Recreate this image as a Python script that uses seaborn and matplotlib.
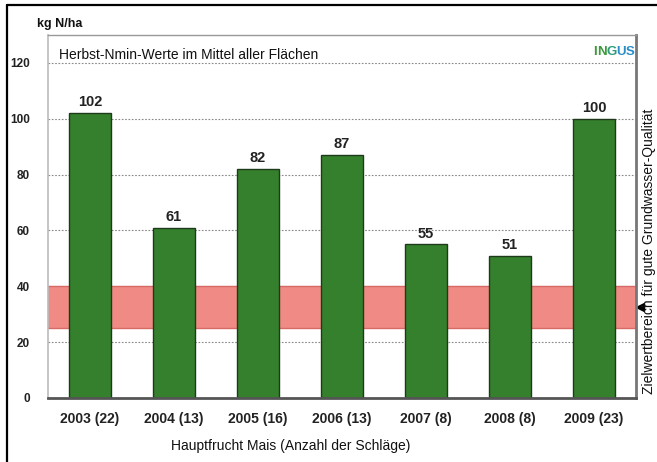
import matplotlib
matplotlib.use("Agg")
import matplotlib.pyplot as plt
import matplotlib.transforms as mtransforms
from matplotlib.lines import Line2D
import seaborn as sns
import pandas as pd

categories = ["2003 (22)", "2004 (13)", "2005 (16)", "2006 (13)", "2007 (8)", "2008 (8)", "2009 (23)"]
values = [102, 61, 82, 87, 55, 51, 100]
yticks = [0, 20, 40, 60, 80, 100, 120]
band_low, band_high = 25, 40

sns.set_style("white")
plt.rcParams['font.family'] = ['Liberation Sans', 'DejaVu Sans']

W, H = 657, 462
fig = plt.figure(figsize=(W / 100, H / 100), dpi=100)
fig.patch.set_facecolor("white")
ax = fig.add_axes([48 / W, 1 - 398 / H, 588 / W, 363 / H])

df = pd.DataFrame({"Jahr": categories, "Wert": values})

# target band
ax.axhspan(band_low, band_high, facecolor="#F08A85", edgecolor="none", zorder=0.5)
for yv in (band_low, band_high):
    ax.axhline(yv, color="#D86A66", lw=1.0, zorder=0.6)

sns.barplot(data=df, x="Jahr", y="Wert", color="#35802C", saturation=1,
            width=0.5, edgecolor="#1E3A1A", linewidth=1.0, ax=ax, zorder=2)

ax.set_ylim(0, 130)
ax.set_xlim(-0.5, len(categories) - 0.5)
ax.set_yticks(yticks)
ax.set_yticklabels([str(v) for v in yticks], fontsize=8.5, fontweight="bold", color="#222222")
ax.set_xticks(range(len(categories)))
ax.set_xticklabels(categories, fontsize=10, fontweight="bold", color="#222222")
ax.tick_params(axis="both", length=0)
ax.tick_params(axis="y", pad=13)
ax.tick_params(axis="x", pad=10)
ax.set_xlabel("")
ax.set_ylabel("")

for yv in yticks[1:]:
    ax.axhline(yv, color="#888888", lw=0.8, ls=(0, (1.5, 1.5)), zorder=0.4)

for i, v in enumerate(values):
    ax.text(i, v + 1.4, str(v), ha="center", va="bottom", fontsize=10.5,
            fontweight="bold", color="#222222")

for side, col, lw in (("left", "#BBBBBB", 1.2), ("top", "#999999", 1.0),
                      ("right", "#777777", 2.0), ("bottom", "#555555", 2.0)):
    ax.spines[side].set_visible(True)
    ax.spines[side].set_color(col)
    ax.spines[side].set_linewidth(lw)

ax.text(0.018, 0.945, "Herbst-Nmin-Werte im Mittel aller Flächen", transform=ax.transAxes,
        ha="left", va="center", fontsize=10, color="#111111")

# INGUS logo
ingus_colors = ["#3A9A3A", "#3A9A3A", "#2E9A7A", "#2A8CC8", "#2A8CC8"]
x0 = 593 / W
for ch, col in zip("INGUS", ingus_colors):
    t = fig.text(x0, 1 - 52 / H, ch, ha="left", va="center", fontsize=9.5,
                 fontweight="bold", color=col, family=["Liberation Sans Narrow", "Liberation Sans"])
    fig.canvas.draw()
    bb = t.get_window_extent()
    x0 = bb.x1 / W

fig.text(37 / W, 1 - 24 / H, "kg N/ha", ha="left", va="center", fontsize=9,
         fontweight="bold", color="#111111")

fig.text(291 / W, 1 - 446 / H, "Hauptfrucht Mais (Anzahl der Schläge)", ha="center",
         va="center", fontsize=10, color="#111111")

fig.text(649.5 / W, 1 - 251 / H, "Zielwertbereich für gute Grundwasser-Qualität", rotation=90,
         ha="center", va="center", fontsize=10, color="#111111")

trans = mtransforms.blended_transform_factory(fig.transFigure, ax.transData)
ax.plot([639.5 / W], [(band_low + band_high) / 2], marker="<", color="black", markersize=5.5,
        transform=trans, clip_on=False)

# outer frame
fig.add_artist(Line2D([7 / W, 1], [1 - 5 / H, 1 - 5 / H], transform=fig.transFigure,
                      color="black", lw=1.6))
fig.add_artist(Line2D([7 / W, 7 / W], [0, 1 - 5 / H], transform=fig.transFigure,
                      color="black", lw=1.6))

fig.savefig("out.png", dpi=100)
